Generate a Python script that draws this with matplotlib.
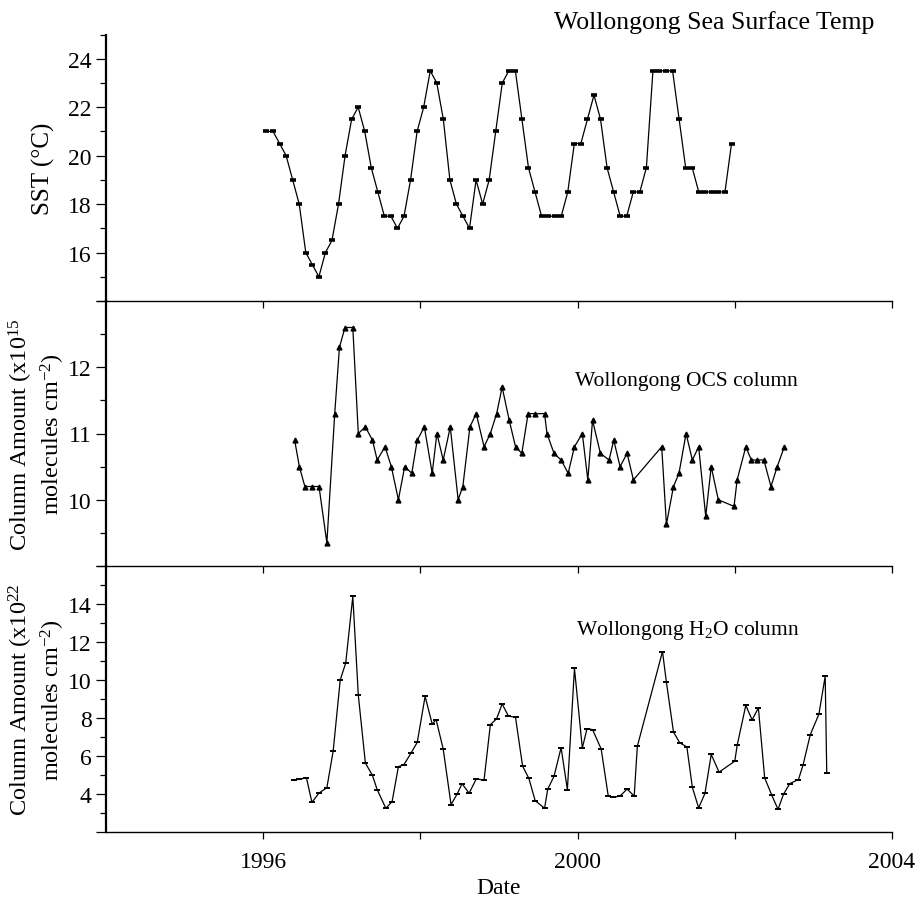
import numpy as np
import matplotlib
matplotlib.use("Agg")
from matplotlib import pyplot as plt
from matplotlib.ticker import MultipleLocator

plt.rcParams['font.family'] = ['Liberation Serif', 'DejaVu Serif']
plt.rcParams['mathtext.fontset'] = 'custom'
plt.rcParams['mathtext.rm'] = 'Liberation Serif'
plt.rcParams['mathtext.it'] = 'Liberation Serif:italic'

# SST, monthly means Jan 1996 - Dec 2001
sst_years = 1996 + (np.arange(72) + 0.5) / 12
sst_vals = [21, 21, 20.5, 20, 19, 18, 16, 15.5, 15, 16, 16.5, 18, 20, 21.5, 22, 21, 19.5, 18.5, 17.5, 17.5, 17, 17.5, 19,
            21, 22, 23.5, 23, 21.5, 19, 18, 17.5, 17, 19, 18, 19, 21, 23, 23.5, 23.5, 21.5, 19.5, 18.5, 17.5,
            17.5, 17.5, 17.5, 18.5, 20.5, 20.5, 21.5, 22.5, 21.5, 19.5, 18.5, 17.5, 17.5, 18.5, 18.5, 19.5,
            23.5, 23.5, 23.5, 23.5, 21.5, 19.5, 19.5, 18.5, 18.5, 18.5, 18.5, 18.5, 20.5]

# OCS column (x10^15 molecules cm^-2)
ocs_years = [1996.40, 1996.46, 1996.53, 1996.62, 1996.71, 1996.81, 1996.91, 1996.97, 1997.04, 1997.14,
             1997.21, 1997.30, 1997.39, 1997.45, 1997.55, 1997.63, 1997.72, 1997.80, 1997.89, 1997.96,
             1998.05, 1998.15, 1998.21, 1998.29, 1998.38, 1998.48, 1998.54, 1998.63, 1998.71, 1998.81,
             1998.89, 1998.97, 1999.04, 1999.13, 1999.21, 1999.29, 1999.37, 1999.46, 1999.58, 1999.61,
             1999.70, 1999.79, 1999.88, 1999.96, 2000.06, 2000.13, 2000.19, 2000.29, 2000.40, 2000.46,
             2000.54, 2000.63, 2000.71, 2001.07, 2001.13, 2001.22, 2001.29, 2001.38, 2001.46, 2001.54,
             2001.63, 2001.70, 2001.79, 2001.99, 2002.03, 2002.14, 2002.21, 2002.28, 2002.37, 2002.46,
             2002.54, 2002.63]
ocs_vals = [10.9, 10.5, 10.2, 10.2, 10.2, 9.35, 11.3, 12.3, 12.6, 12.6,
            11.0, 11.1, 10.9, 10.6, 10.8, 10.5, 10.0, 10.5, 10.4, 10.9,
            11.1, 10.4, 11.0, 10.6, 11.1, 10.0, 10.2, 11.1, 11.3, 10.8,
            11.0, 11.3, 11.7, 11.2, 10.8, 10.7, 11.3, 11.3, 11.3, 11.0,
            10.7, 10.6, 10.4, 10.8, 11.0, 10.3, 11.2, 10.7, 10.6, 10.9,
            10.5, 10.7, 10.3, 10.8, 9.63, 10.2, 10.4, 11.0, 10.6, 10.8,
            9.75, 10.5, 10.0, 9.9, 10.3, 10.8, 10.6, 10.6, 10.6, 10.2,
            10.5, 10.8]

# H2O column (x10^22 molecules cm^-2)
h2o_years = [1996.39, 1996.46, 1996.55, 1996.62, 1996.71, 1996.81, 1996.89, 1996.98,
             1997.05, 1997.14, 1997.21, 1997.30, 1997.39, 1997.45, 1997.56, 1997.64, 1997.72, 1997.79, 1997.88, 1997.96,
             1998.06, 1998.15, 1998.20, 1998.29, 1998.39, 1998.47, 1998.53, 1998.62, 1998.71, 1998.81, 1998.89, 1998.97,
             1999.04, 1999.12, 1999.21, 1999.30, 1999.38, 1999.46, 1999.58, 1999.62, 1999.70, 1999.79, 1999.87, 1999.96,
             2000.06, 2000.12, 2000.19, 2000.30, 2000.39, 2000.45, 2000.54, 2000.63, 2000.72, 2000.76,
             2001.08, 2001.13, 2001.22, 2001.30, 2001.39, 2001.46, 2001.54, 2001.62, 2001.70, 2001.80,
             2002.00, 2002.03, 2002.14, 2002.22, 2002.30, 2002.38, 2002.47, 2002.55, 2002.62, 2002.70, 2002.81, 2002.87, 2002.96,
             2003.07, 2003.15, 2003.17]
h2o_vals = [4.75, 4.77, 4.86, 3.56, 4.05, 4.33, 6.25, 10.0,
            10.9, 14.4, 9.2, 5.63, 4.98, 4.23, 3.25, 3.6, 5.44, 5.54, 6.15, 6.72,
            9.14, 7.68, 7.91, 6.37, 3.44, 4.02, 4.54, 4.04, 4.79, 4.74, 7.65, 7.96,
            8.74, 8.1, 8.04, 5.47, 4.82, 3.65, 3.25, 4.26, 4.93, 6.44, 4.23, 10.61,
            6.42, 7.44, 7.39, 6.37, 3.89, 3.82, 3.89, 4.26, 3.89, 6.51,
            11.5, 9.88, 7.26, 6.69, 6.48, 4.35, 3.27, 4.03, 6.08, 5.15,
            5.73, 6.56, 8.67, 7.9, 8.53, 4.85, 3.94, 3.19, 3.99, 4.55, 4.76, 5.55, 7.12,
            8.2, 10.2, 5.1]

year_ticks = [1996, 1998, 2000, 2002, 2004]
year_labels = ['1996', '', '2000', '', '2004']

fig = plt.figure(figsize=(9.16, 9.04), dpi=100)
W, H = 916, 904
left, right = 106 / W, 892 / W
tops = [35.5, 302, 567]
bots = [302, 567, 833]
axes = []
for t, b in zip(tops, bots):
    ax = fig.add_axes([left, 1 - b / H, right - left, (b - t) / H])
    ax.set_facecolor('none')  # keeps the spine of the panel above visible
    axes.append(ax)
ax1, ax2, ax3 = axes

ax1.plot(sst_years, sst_vals, color='black', lw=0.9, marker='_', ms=5, mew=2.6)
ax2.plot(ocs_years, ocs_vals, color='black', lw=0.9, marker='^', ms=3.5)
ax3.plot(h2o_years, h2o_vals, color='black', lw=0.9, marker='_', ms=5, mew=1.4)

for ax in axes:
    ax.set_xlim(1994, 2004)
    ax.spines['top'].set_visible(False)
    ax.spines['right'].set_visible(False)
    ax.spines['left'].set_linewidth(1.6)
    ax.spines['bottom'].set_linewidth(1.0)
    ax.set_xticks(year_ticks)
    ax.tick_params(axis='both', which='major', direction='out', length=7, width=0.9, labelsize=17)
    ax.tick_params(axis='y', which='minor', direction='out', length=4.5, width=0.9)
    ax.tick_params(axis='x', length=5, pad=9)

ax1.set_xticklabels([''] * 5)
ax2.set_xticklabels([''] * 5)
ax3.set_xticklabels(year_labels)

ax1.set_ylim(14, 25)
ax1.set_yticks([14, 16, 18, 20, 22, 24], ['', '16', '18', '20', '22', '24'])
ax1.yaxis.set_minor_locator(MultipleLocator(1))

ax2.set_ylim(9, 13)
ax2.set_yticks([9, 10, 11, 12, 13], ['', '10', '11', '12', ''])
ax2.yaxis.set_minor_locator(MultipleLocator(0.5))

ax3.set_ylim(2, 16)
ax3.set_yticks([2, 4, 6, 8, 10, 12, 14, 16], ['', '4', '6', '8', '10', '12', '14', ''])
ax3.yaxis.set_minor_locator(MultipleLocator(1))

ax1.set_ylabel('SST (°C)', fontsize=18, va='center')
ax2.set_ylabel('Column Amount (x10$^{15}$\nmolecules cm$^{-2}$)', fontsize=17.5, va='center', linespacing=1.15)
ax3.set_ylabel('Column Amount (x10$^{22}$\nmolecules cm$^{-2}$)', fontsize=17.5, va='center', linespacing=1.15)
ax1.yaxis.set_label_coords((43 - 106) / 786, 0.5)
ax2.yaxis.set_label_coords((37 - 106) / 786, 0.5)
ax3.yaxis.set_label_coords((37 - 106) / 786, 0.5)

ax3.set_xlabel('Date', fontsize=17, labelpad=3)

ax1.text((714 - 106) / 786, 1.05, 'Wollongong Sea Surface Temp', transform=ax1.transAxes,
         ha='center', va='center', fontsize=18.5)
ax2.text((686 - 106) / 786, 0.70, 'Wollongong OCS column', transform=ax2.transAxes,
         ha='center', va='center', fontsize=15.5)
ax3.text((688 - 106) / 786, 0.763, 'Wollongong H$_2$O column', transform=ax3.transAxes,
         ha='center', va='center', fontsize=15.5)

fig.savefig('out.png', dpi=100)
